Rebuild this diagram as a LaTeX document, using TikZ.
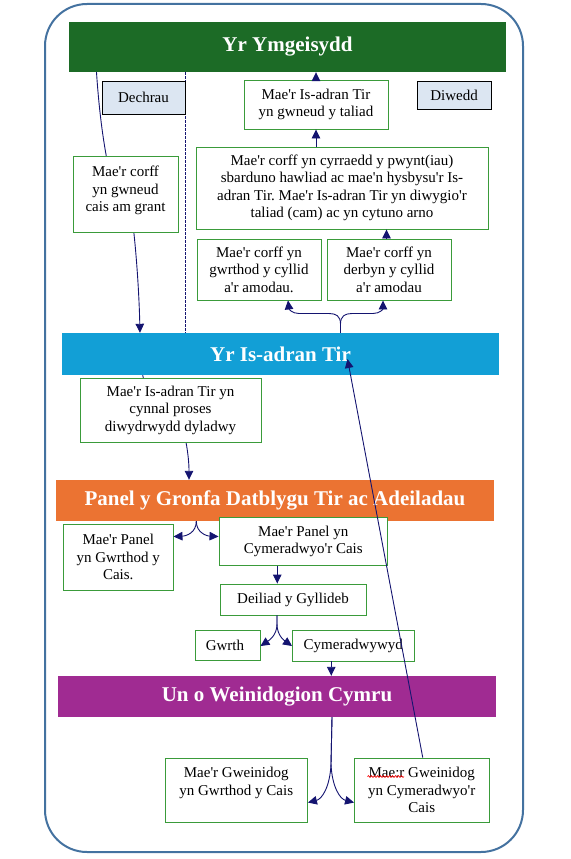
\documentclass[tikz,border=0pt]{standalone}
\usepackage{fontspec}
\setmainfont{Liberation Serif}
\usetikzlibrary{arrows.meta,calc,decorations.pathmorphing}
\definecolor{frameblue}{HTML}{4472A0}
\definecolor{hdgreen}{HTML}{1C6B26}
\definecolor{hdblue}{HTML}{129FD6}
\definecolor{hdorange}{HTML}{EB7332}
\definecolor{hdpurple}{HTML}{A02B92}
\definecolor{boxgreen}{HTML}{3A9B3A}
\definecolor{navy}{HTML}{141470}
\definecolor{lightfill}{HTML}{DCE6F2}
\newcommand\ap{\textquotesingle}
\frenchspacing
\begin{document}
\begin{tikzpicture}[x=1pt,y=-1pt,
  sz/.style 2 args={minimum width=#1,minimum height=#2},
  bar/.style={rectangle, inner sep=0pt, text=white, font=\fontsize{21}{24}\selectfont\bfseries},
  gbox/.style={rectangle, draw=boxgreen, line width=0.9pt, fill=white, inner sep=0pt, align=center, font=\fontsize{15}{17.5}\selectfont},
  tagbox/.style={rectangle, draw=black, line width=0.95pt, fill=lightfill, inner sep=0pt, font=\fontsize{15}{17.5}\selectfont},
  conn/.style={draw=navy, line width=0.9pt},
  arr/.style={conn, -{Triangle[length=9pt,width=8.5pt]}},
  spell/.style={draw=red, line width=0.6pt, decorate, decoration={snake, segment length=3pt, amplitude=0.9pt}},
]
\path[use as bounding box] (0,0) rectangle (570,859);
\draw[frameblue, line width=2pt, rounded corners=42pt] (45,4) rectangle (523,852);

% bars
\node[bar, fill=hdgreen, sz={437pt}{50pt}] (ntop) at (287.5,47) {Yr Ymgeisydd};
\node[bar, fill=hdblue, sz={437pt}{42pt}] (bb) at (280.5,354) {Yr Is-adran Tir};
\node[bar, fill=hdorange, sz={438pt}{41pt}] (orange) at (275,500.5) {Panel y Gronfa Datblygu Tir ac Adeiladau};
\node[bar, fill=hdpurple, sz={438pt}{41pt}] (purple) at (277,696.5) {Un o Weinidogion Cymru};

% connectors passing under boxes
\draw[arr] (ntop.south -| 96.5,0) .. controls (99,110) and (103,140) .. (108,165) -- (133,225) .. controls (136,250) and (139,290) .. (bb.north -| 140,0);
\draw[arr] (bb.south -| 142.7,0) -- (146,390) -- (182,425) .. controls (185,435) and (189,455) .. (orange.north -| 189,0);
\draw[navy, line width=0.8pt, dash pattern=on 2.5pt off 1.5pt] (ntop.south -| 185.8,0) -- (bb.north -| 185.8,0);

% boxes
\node[tagbox, sz={83pt}{33pt}] (nstart) at (143.5,97.5) {Dechrau};
\node[tagbox, sz={74pt}{28pt}] (nend) at (454,95) {Diwedd};
\node[gbox, sz={144pt}{49pt}] (taliad) at (316,104.5) {Mae\ap r Is-adran Tir\\yn gwneud y taliad};
\node[gbox, sz={292pt}{82pt}] (big) at (342,188) {Mae\ap r corff yn cyrraedd y pwynt(iau)\\sbarduno hawliad ac mae\ap n hysbysu\ap r Is-\\adran Tir. Mae\ap r Is-adran Tir yn diwygio\ap r\\taliad (cam) ac yn cytuno arno};
\node[gbox, sz={105pt}{76pt}] (cais) at (125.5,194) {Mae\ap r corff\\yn gwneud\\cais am grant\\[-7.5pt]\mbox{}};
\node[gbox, sz={124pt}{61pt}] (gc) at (259,269.5) {Mae\ap r corff yn\\gwrthod y cyllid\\a\ap r amodau.};
\node[gbox, sz={124pt}{61pt}] (dc) at (389,269.5) {Mae\ap r corff yn\\derbyn y cyllid\\a\ap r amodau};
\node[gbox, sz={181pt}{64pt}] (dd) at (170.5,410) {Mae\ap r Is-adran Tir yn\\cynnal proses\\diwydrwydd dyladwy};
\node[gbox, sz={109.5pt}{66pt}] (pg) at (118.25,557) {Mae\ap r Panel\\yn Gwrthod y\\Cais.};
\node[gbox, sz={168.5pt}{48pt}] (pc) at (303.25,541.5) {Mae\ap r Panel yn\\Cymeradwyo\ap r Cais};
\node[gbox, sz={146pt}{31pt}] (dy) at (293,599.5) {Deiliad y Gyllideb};
\node[gbox, sz={65pt}{29.5pt}] (gw) at (227.5,645.25) {Gwrth\hspace*{5pt}};
\node[gbox, sz={121.5pt}{30.5pt}] (cy) at (353.25,645.75) {Cymeradwywyd};
\node[gbox, sz={142.5pt}{64pt}] (mg) at (236.25,790) {Mae\ap r Gweinidog\\yn Gwrthod y Cais\\\mbox{}};
\node[gbox, sz={134.5pt}{64pt}] (mc) at (421.75,790) {Mae:r Gweinidog\\yn Cymeradwyo\ap r\\Cais};
\draw[spell] ([xshift=13.5pt,yshift=-19pt]mc.north west) -- ([xshift=50pt,yshift=-19pt]mc.north west);

% connectors
\draw[arr] (taliad.north) -- (taliad.north |- ntop.south);
\draw[arr] (big.north -| taliad.south) -- (taliad.south);
\draw[arr] ([xshift=-2.5pt]dc.north) -- ([xshift=-2.5pt]dc.north |- big.south);
\draw[arr] (bb.north -| 340.5,0) -- (340.5,324) .. controls (340.5,316) and (336,313.5) .. (329,313.5) -- (299,313.5) .. controls (292,313.5) and (289,309) .. (gc.south -| 288,0);
\draw[arr] (bb.north -| 340.5,0) -- (340.5,324) .. controls (340.5,316) and (345,313.5) .. (352,313.5) -- (373,313.5) .. controls (380,313.5) and (383,309) .. (dc.south -| 383,0);
\draw[arr] (orange.south -| 196.3,0) .. controls (196.3,533) and (186,536) .. ([yshift=-13pt]pg.north east);
\draw[arr] (orange.south -| 196.3,0) .. controls (196.3,533) and (207,536) .. ([yshift=-19.5pt]pc.north west);
\draw[arr] ([xshift=-26pt]pc.south) -- ([xshift=-26pt]pc.south |- dy.north);
\draw[arr] (dy.south -| 277,0) -- (277,624) .. controls (277,636) and (268,641) .. ([yshift=-16pt]gw.north east);
\draw[arr] (dy.south -| 277,0) -- (277,624) .. controls (277,636) and (285,641) .. ([yshift=-16pt]cy.north west);
\draw[arr] ([xshift=-22pt]cy.south) -- ([xshift=-22pt]cy.south |- purple.north);
\draw[arr] (purple.south -| 332,0) -- (331,764) .. controls (330,787) and (322,799) .. ([yshift=-45pt]mg.north east);
\draw[arr] (purple.south -| 332,0) -- (331,764) .. controls (332,787) and (340,799) .. ([yshift=-45pt]mc.north west);
\coordinate (bbtip) at (347.5,359);
\draw[arr] ([xshift=1pt]mc.north) -- (bbtip);
\end{tikzpicture}
\end{document}
